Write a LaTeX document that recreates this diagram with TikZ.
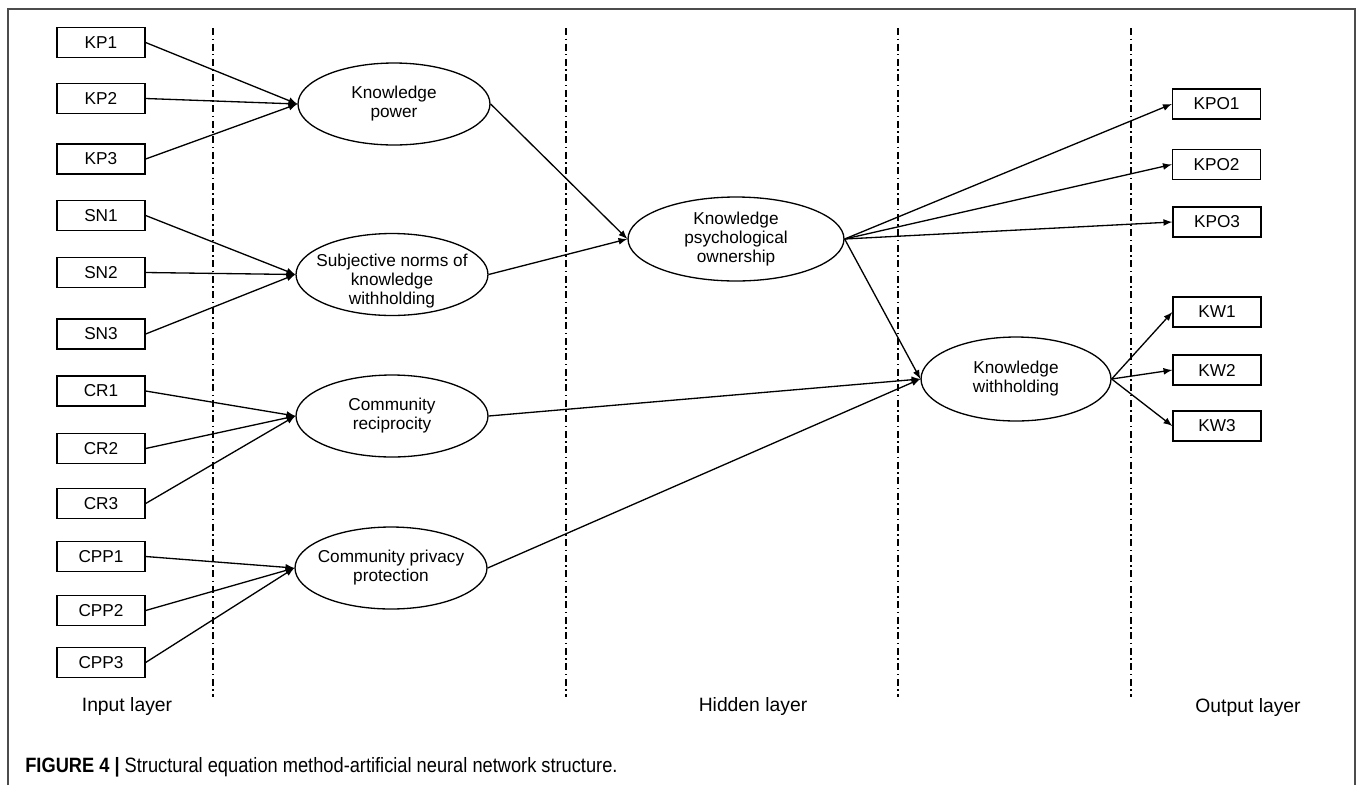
\documentclass[tikz,border=0pt]{standalone}
\usepackage{fontspec}
\setmainfont{Liberation Sans}
\newfontfamily\capfont[FakeStretch=0.88]{Liberation Sans}
\usetikzlibrary{shapes.geometric}
\begin{document}
\begin{tikzpicture}[x=0.02cm, y=-0.02cm,
	item/.style={rectangle, draw, line width=0.75pt, minimum height=0.6cm, minimum width=1.76cm,
	inner sep=0pt, font=\fontsize{9.8}{11}\selectfont},
	construct/.style={ellipse, draw, line width=0.75pt, minimum height=1.64cm, minimum width=3.84cm,
	inner ysep=-8pt, inner xsep=-10pt, align=center, font=\fontsize{9.8}{10.8}\selectfont},
	layer/.style={font=\fontsize{11}{13}\selectfont},
	sep/.style={line width=1.1pt, dash pattern=on 0.14cm off 0.07cm on 0.03cm off 0.07cm},
	link/.style={-latex, line width=0.75pt}]
			
			\useasboundingbox (0,0) rectangle (1358,785);
			\draw[black!70, line width=0.7pt] (8,785) -- (8,9) -- (1355,9) -- (1355,785);
			
			%Separators
			\draw[sep] (213,28) -- (213,697);
			\draw[sep] (566,28) -- (566,697);
			\draw[sep] (898,28) -- (898,697);
			\draw[sep] (1131,28) -- (1131,697);
			
			%Input nodes
			\node (KP1) at (101,42.5) [item]{KP1};
			\node (KP2) at (101,98.5) [item]{KP2};
			\node (KP3) at (101,159) [item]{KP3};
			\node (SN1) at (101,215.5) [item]{SN1};
			\node (SN2) at (101,272.5) [item]{SN2};
			\node (SN3) at (101,334) [item]{SN3};
			\node (CR1) at (101,391) [item]{CR1};
			\node (CR2) at (101,448.5) [item]{CR2};
			\node (CR3) at (101,503.5) [item]{CR3};
			\node (CPP1) at (101,556.5) [item]{CPP1};
			\node (CPP2) at (101,610.5) [item]{CPP2};
			\node (CPP3) at (101,662.5) [item]{CPP3};
			
			%Hidden nodes
			\node (Power) at (394,104) [construct]{Knowledge\\power};
			\node (Norms) at (392,274.5) [construct]{\rule{0pt}{15pt}Subjective norms of\\knowledge\\withholding};
			\node (Reciprocity) at (392,416) [construct]{Community\\reciprocity};
			\node (Privacy) at (391,568) [construct]{Community privacy\\protection};
			\node (Ownership) at (736,239) [construct, minimum width=4.32cm, minimum height=1.68cm]{Knowledge\\psychological\\ownership};
			\node (Withholding) at (1016,379) [construct, minimum width=3.8cm, minimum height=1.68cm]{Knowledge\\withholding};
			
			%Output nodes
			\node (KPO1) at (1216.5,104) [item]{KPO1};
			\node (KPO2) at (1216.5,164.5) [item]{KPO2};
			\node (KPO3) at (1217,222) [item]{KPO3};
			\node (KW1) at (1217,312) [item]{KW1};
			\node (KW2) at (1217,370) [item]{KW2};
			\node (KW3) at (1217,426) [item]{KW3};
			
			%Links
			\draw[link] (KP1.east) -- (Power.west);
			\draw[link] (KP2.east) -- (Power.west);
			\draw[link] (KP3.east) -- (Power.west);
			\draw[link] (SN1.east) -- (Norms.west);
			\draw[link] (SN2.east) -- (Norms.west);
			\draw[link] (SN3.east) -- (Norms.west);
			\draw[link] (CR1.east) -- (Reciprocity.west);
			\draw[link] (CR2.east) -- (Reciprocity.west);
			\draw[link] (CR3.east) -- (Reciprocity.west);
			\draw[link] (CPP1.east) -- (Privacy.west);
			\draw[link] (CPP2.east) -- (Privacy.west);
			\draw[link] (CPP3.east) -- (Privacy.west);
			\draw[link] (Power.east) -- (Ownership.west);
			\draw[link] (Norms.east) -- (Ownership.west);
			\draw[link] (Reciprocity.east) -- (Withholding.west);
			\draw[link] (Privacy.east) -- (Withholding.west);
			\draw[link] (Ownership.east) -- (Withholding.west);
			\draw[link] (Ownership.east) -- (KPO1.west);
			\draw[link] (Ownership.east) -- (KPO2.west);
			\draw[link] (Ownership.east) -- (KPO3.west);
			\draw[link] (Withholding.east) -- (KW1.west);
			\draw[link] (Withholding.east) -- (KW2.west);
			\draw[link] (Withholding.east) -- (KW3.west);
			
			%Layers
			\node (InputLayer) at (127,706) [layer]{Input layer};
			\node (HiddenLayer) at (753,706) [layer]{Hidden layer};
			\node (OutputLayer) at (1248,707) [layer]{Output layer};
			
			%Caption
			\node (Caption) at (25,767) [anchor=west, inner sep=0pt, font=\capfont\fontsize{11.8}{14}\selectfont]{\textbf{FIGURE 4 |} Structural equation method-artificial neural network structure.};
			
			\end{tikzpicture}
\end{document}
